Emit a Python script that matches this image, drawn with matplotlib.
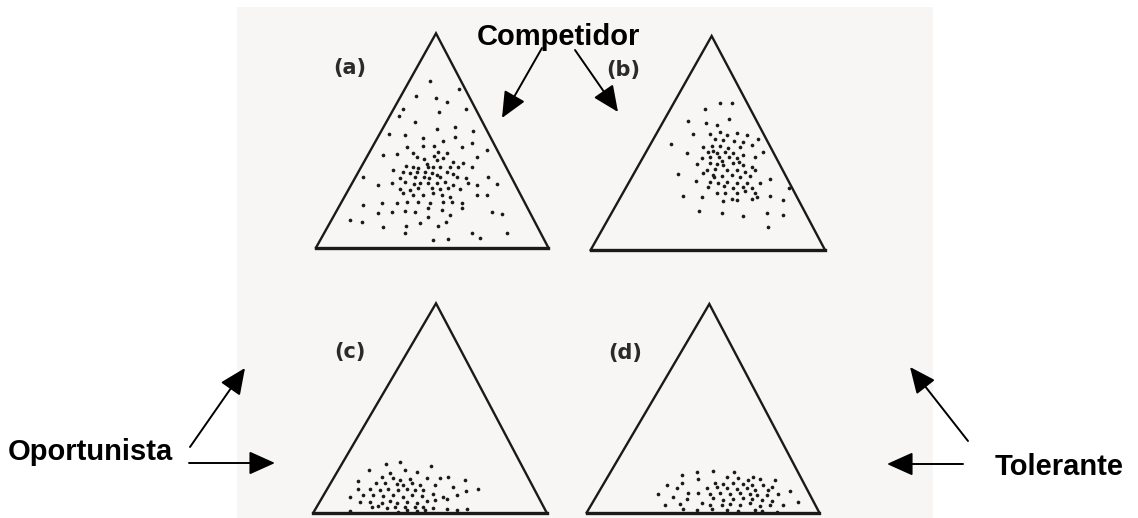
import matplotlib
matplotlib.use("Agg")
import matplotlib.pyplot as plt
from matplotlib.patches import Rectangle
import numpy as np

W, H = 1138, 518

# each panel lives in its own frame: (left, top, width, height) in figure pixels,
# local units are 1/3 pixel
frame_a = (300, 20, 260, 240)
frame_b = (570, 20, 260, 240)
frame_c = (300, 290, 260, 228)
frame_d = (570, 290, 260, 228)

tri_a = [(48, 683), (408, 40), (745, 683)]
tri_b = [(62, 690), (425, 48), (765, 690)]
tri_c = [(40, 668), (408, 40), (740, 668)]
tri_d = [(50, 668), (418, 42), (748, 668)]

label_a = (148, 143)
label_b = (160, 150)
label_c = (150, 185)
label_d = (165, 190)

dots_a = [
    (390, 182), (477, 207), (348, 228), (408, 233), (440, 245), (310, 268), (418, 277), (498, 268), (297, 287),
    (344, 307), (466, 320), (412, 328), (518, 332),
    (266, 343), (316, 346), (368, 355), (466, 350), (430, 362),
    (320, 380), (370, 378), (402, 378), (487, 380), (515, 368), (248, 405), (292, 402), (340, 400), (415, 395),
    (440, 400), (530, 410), (560, 390),
    (352, 412), (372, 418), (402, 408), (410, 420), (428, 415), (460, 425), (490, 430), (380, 432), (318, 438),
    (340, 440), (355, 445), (385, 440), (400, 440), (420, 440), (450, 440), (475, 440), (517, 442),
    (280, 450), (310, 455), (330, 460), (350, 455), (375, 455), (395, 460), (410, 465), (440, 455), (460, 462),
    (190, 470), (300, 475), (345, 470), (372, 470), (388, 475), (420, 470), (470, 470), (497, 475), (565, 470),
    (233, 495), (275, 490), (315, 485), (342, 493), (360, 490), (385, 490), (410, 490), (436, 485), (460, 495),
    (505, 490), (530, 495), (590, 492), (300, 508), (330, 510), (355, 505), (395, 505), (420, 508), (445, 505),
    (480, 508), (310, 520), (340, 525), (370, 525), (400, 520), (425, 525), (450, 530), (530, 525), (560, 525),
    (245, 548), (290, 550), (320, 545), (355, 545), (390, 550), (430, 545), (455, 545), (485, 548),
    (190, 555), (275, 575), (315, 572), (345, 575), (385, 565), (425, 570), (450, 585), (485, 565), (575, 575),
    (605, 582), (150, 600), (185, 605), (235, 580), (360, 610), (385, 590),
    (250, 622), (318, 618), (413, 618), (437, 605), (515, 638), (540, 655), (620, 638), (398, 660), (445, 657),
    (315, 640),
]

dots_b = [
    (450, 250), (485, 248), (405, 267), (478, 297), (355, 302), (408, 310), (442, 315), (368, 343), (420, 343),
    (450, 335), (470, 345), (500, 340), (530, 345), (303, 373), (435, 358), (460, 360), (492, 362), (520, 365),
    (545, 375), (565, 358), (398, 380), (425, 378), (450, 378), (475, 385), (510, 382), (578, 395), (352, 398),
    (415, 395), (440, 400), (465, 395), (490, 400), (420, 410), (448, 412), (478, 410), (500, 415), (520, 405),
    (555, 410), (380, 433), (420, 430), (440, 432), (460, 435), (490, 430), (520, 435), (545, 440), (410, 450),
    (435, 448), (470, 450), (500, 450), (525, 455), (555, 450), (325, 463), (400, 458), (430, 465), (455, 468),
    (485, 465), (510, 470), (540, 468), (378, 482), (420, 485), (445, 490), (470, 485), (500, 490), (530, 488),
    (570, 488), (600, 478), (415, 500), (462, 498), (490, 505), (520, 500), (545, 505), (340, 528), (395, 530),
    (440, 518), (465, 520), (500, 518), (525, 512), (555, 520), (560, 532), (600, 528), (460, 542), (485, 538),
    (500, 540), (545, 538), (638, 540), (388, 572), (455, 578), (520, 588), (590, 578), (640, 585), (595, 620),
    (657, 503), (428, 392), (455, 422), (432, 472), (508, 425), (395, 415),
]

dots_c = [
    (257, 523), (300, 515), (393, 527), (207, 540), (270, 548), (315, 540), (350, 545), (175, 572), (245, 562),
    (280, 565), (300, 570), (330, 568), (380, 565), (420, 565), (443, 562), (495, 570), (228, 580), (255, 580),
    (290, 582), (310, 585), (335, 580), (360, 585), (405, 585), (175, 597), (210, 598), (240, 600), (265, 598),
    (295, 600), (320, 598), (345, 600), (370, 600), (460, 592), (497, 602), (535, 597), (150, 620), (190, 615),
    (220, 615), (250, 618), (280, 615), (310, 620), (335, 615), (365, 618), (400, 612), (430, 620), (470, 615),
    (180, 635), (210, 635), (245, 638), (270, 632), (290, 640), (320, 635), (350, 638), (380, 632), (405, 630),
    (440, 628), (215, 652), (235, 648), (260, 655), (285, 650), (315, 652), (345, 650), (370, 652), (400, 655),
    (440, 658), (470, 660), (500, 658), (150, 662), (295, 665), (320, 660), (350, 662), (375, 660),
]

dots_d = [
    (380, 545), (428, 543), (492, 547), (335, 555), (548, 560), (385, 568), (470, 562), (505, 565), (535, 570),
    (570, 568), (615, 570), (290, 585), (335, 580), (435, 578), (460, 583), (490, 580), (520, 582), (545, 585),
    (580, 585), (605, 590), (320, 595), (410, 595), (440, 592), (470, 595), (500, 598), (530, 595), (555, 600),
    (595, 600), (660, 603), (265, 613), (310, 620), (355, 608), (385, 610), (420, 612), (450, 610), (480, 612),
    (510, 608), (540, 612), (560, 615), (590, 615), (625, 612), (350, 628), (430, 625), (460, 630), (490, 628),
    (520, 625), (545, 628), (575, 630), (605, 632), (685, 635), (285, 645), (330, 642), (395, 640), (420, 645),
    (455, 645), (480, 642), (510, 645), (540, 640), (570, 648), (600, 645), (640, 645), (340, 658), (380, 660),
    (425, 658), (470, 660), (505, 662), (555, 660), (575, 662), (620, 665),
]

# strategy labels and their arrows (figure pixels, y down)
arrows = [
    ((542, 48), (502, 118)),
    ((575, 50), (618, 112)),
    ((190, 447), (245, 368)),
    ((189, 463), (275, 463)),
    ((968, 441), (910, 367)),
    ((963, 464), (887, 464)),
]

ink = '#1a1a1a'

fig = plt.figure(figsize=(W / 100, H / 100), dpi=100)
fig.patch.set_facecolor('white')

bg = fig.add_axes([0, 0, 1, 1])
bg.set_xlim(0, W)
bg.set_ylim(H, 0)
bg.axis('off')
bg.add_patch(Rectangle((237, 7), 696, 511, facecolor='#f8f6f4', edgecolor='none'))

panels = [
    (frame_a, tri_a, dots_a, label_a, '(a)'),
    (frame_b, tri_b, dots_b, label_b, '(b)'),
    (frame_c, tri_c, dots_c, label_c, '(c)'),
    (frame_d, tri_d, dots_d, label_d, '(d)'),
]

for (fx, fy, fw, fh), tri, dots, lab, name in panels:
    ax = fig.add_axes([fx / W, 1 - (fy + fh) / H, fw / W, fh / H])
    ax.set_xlim(0, 3 * fw)
    ax.set_ylim(3 * fh, 0)
    ax.axis('off')
    ax.patch.set_alpha(0)
    left, apex, right = tri
    ax.plot([left[0], apex[0], right[0]], [left[1], apex[1], right[1]],
            color=ink, lw=1.7, solid_joinstyle='miter', clip_on=False)
    ax.plot([left[0], right[0]], [left[1], right[1]], color=ink, lw=2.4,
            solid_capstyle='projecting', clip_on=False)
    pts = np.array(dots)
    ax.scatter(pts[:, 0], pts[:, 1], s=7, color=ink, linewidths=0)
    ax.text(lab[0], lab[1], name, ha='center', va='center', fontsize=15,
            family='DejaVu Sans', weight='bold', color='#2a2a2a')

for tail, tip in arrows:
    bg.annotate('', xy=tip, xytext=tail,
                arrowprops=dict(arrowstyle='-|>,head_length=0.8,head_width=0.36',
                                mutation_scale=20, lw=1.4, color='black',
                                shrinkA=0, shrinkB=0))

font = dict(family='Liberation Sans', weight='bold', fontsize=21, color='black')
bg.text(558, 45, 'Competidor', ha='center', va='baseline', **font)
bg.text(8, 460, 'Oportunista', ha='left', va='baseline', **font)
bg.text(995, 475, 'Tolerante', ha='left', va='baseline', **font)

fig.savefig('out.png', dpi=100, facecolor='white')
